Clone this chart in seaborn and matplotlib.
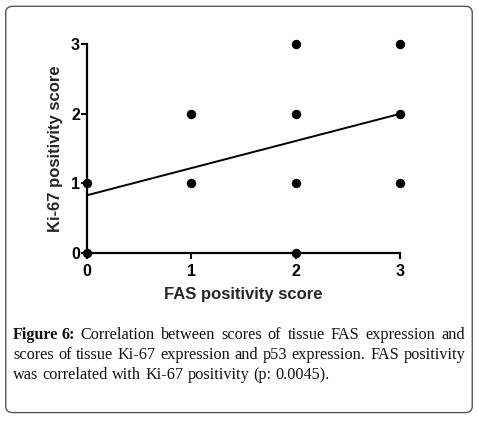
import numpy as np
import pandas as pd
import matplotlib
matplotlib.use('Agg')
import matplotlib.pyplot as plt
import seaborn as sns
from matplotlib.patches import FancyBboxPatch

# scores
fas_score = [0, 0, 1, 1, 2, 2, 2, 2, 3, 3, 3]
ki67_score = [0, 1, 1, 2, 0, 1, 2, 3, 1, 2, 3]

# fitted line as drawn in the figure
fit_x = [0, 3]
fit_y = [0.83, 2.0]

ticks = [0, 1, 2, 3]

caption_lines = [
    "Correlation between scores of tissue FAS expression and",
    "scores of tissue Ki-67 expression and p53 expression. FAS positivity",
    "was correlated with Ki-67 positivity (p: 0.0045).",
]


def justify_line(fig, renderer, words, x0, x1, y, justify=True, **kw):
    texts = [fig.text(x0, y, w, **kw) for w in words]
    widths = [t.get_window_extent(renderer).width / fig.bbox.width for t in texts]
    space = fig.text(0, 0, 'a b', **kw)
    nospace = fig.text(0, 0, 'ab', **kw)
    sp = (space.get_window_extent(renderer).width
          - nospace.get_window_extent(renderer).width) / fig.bbox.width
    space.remove()
    nospace.remove()
    if justify and len(words) > 1:
        sp = (x1 - x0 - sum(widths)) / (len(words) - 1)
    x = x0
    for t, w in zip(texts, widths):
        t.set_x(x)
        x += w + sp


def main():
    sns.set_style('ticks')
    plt.rcParams['font.family'] = ['Liberation Sans', 'DejaVu Sans']

    df = pd.DataFrame({'fas': fas_score, 'ki67': ki67_score})
    fit = pd.DataFrame({'x': fit_x, 'y': fit_y})

    fig = plt.figure(figsize=(4.78, 4.21), dpi=100)
    ax = fig.add_axes([0.182, 0.399, 0.655, 0.496])

    sns.lineplot(ax=ax, x='x', y='y', data=fit, color='black', lw=1.4)
    sns.scatterplot(ax=ax, x='fas', y='ki67', data=df, color='black',
                    s=46, edgecolor='black', linewidth=0, clip_on=False, zorder=5)

    ax.set_xlim(0, 3)
    ax.set_ylim(0, 3)
    ax.set_xticks(ticks)
    ax.set_yticks(ticks)
    ax.tick_params(length=4, width=1.5, labelsize=11.5, colors='black')
    ax.tick_params(axis='x', pad=4)
    ax.tick_params(axis='y', pad=1)
    for lab in ax.get_xticklabels() + ax.get_yticklabels():
        lab.set_fontweight('bold')
    for side in ['left', 'bottom']:
        ax.spines[side].set_linewidth(1.6)
        ax.spines[side].set_color('black')
    sns.despine(ax=ax)
    ax.set_xlabel('FAS positivity score', fontsize=12, fontweight='bold', labelpad=6)
    ax.set_ylabel('Ki-67 positivity score', fontsize=12, fontweight='bold', labelpad=6)

    # rounded frame around the whole figure
    frame = FancyBboxPatch((0.012, 0.02), 0.976, 0.965,
                           boxstyle='round,pad=0,rounding_size=0.015',
                           transform=fig.transFigure, fill=False,
                           edgecolor='#555555', lw=1.0)
    fig.patches.append(frame)

    # caption
    fig.canvas.draw()
    renderer = fig.canvas.get_renderer()
    kw = dict(fontsize=11.7, family=['Liberation Serif', 'DejaVu Serif'],
              va='baseline', color='#111111')
    x0, x1 = 13 / 478, 465 / 478
    ys = [1 - 339 / 421, 1 - 359 / 421, 1 - 379 / 421]
    first = ['Figure', '6:'] + caption_lines[0].split()
    justify_line(fig, renderer, first, x0, x1, ys[0], **kw)
    # make "Figure 6:" bold
    for t in fig.texts[:2]:
        t.set_fontweight('bold')
    justify_line(fig, renderer, caption_lines[1].split(), x0, x1, ys[1], **kw)
    justify_line(fig, renderer, caption_lines[2].split(), x0, x1, ys[2],
                 justify=False, **kw)

    fig.savefig('out.png', dpi=100)


if __name__ == "__main__":
    main()
